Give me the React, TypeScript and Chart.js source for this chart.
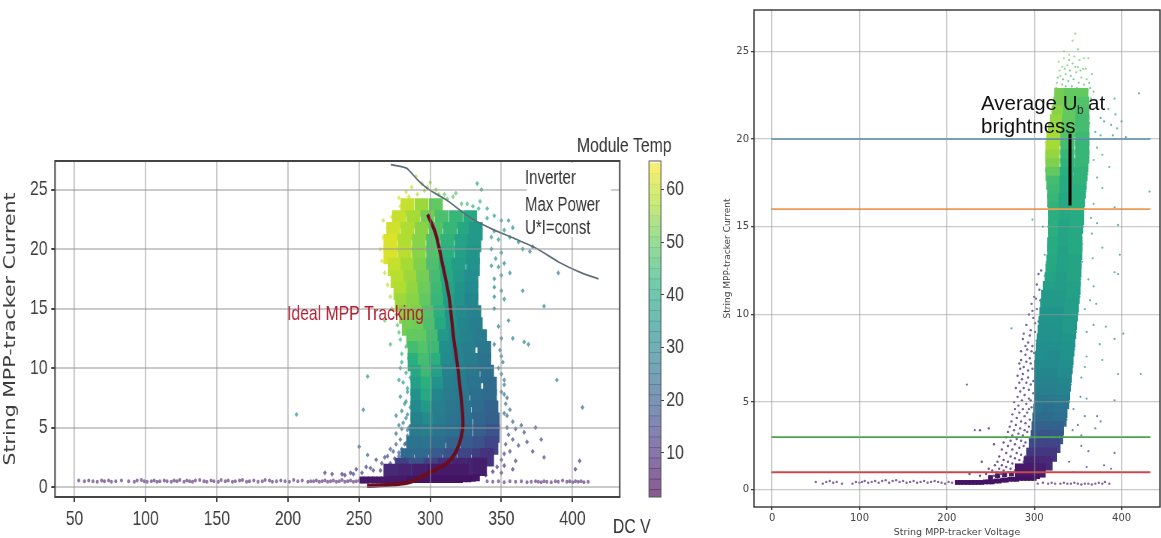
import React, { useEffect, useRef } from "react";
import { Chart, registerables } from "chart.js";
Chart.register(...registerables);

// ---------- left panel data: [current, voltages, temperatures] per row ----------
const leftCoreRows: [number, number[], number[]][] = [
  [23.5, [284, 294, 304], [60, 56, 50]],
  [22.5, [278, 288, 298, 308, 318, 328], [60, 57, 52, 47, 44, 40]],
  [21.5, [274, 284, 294, 304, 314, 324, 332], [61, 58, 54, 48, 44, 40, 36]],
  [20.5, [272, 282, 292, 302, 312, 322, 331], [62, 58, 54, 48, 43, 39, 36]],
  [19.5, [272, 282, 292, 302, 312, 322, 330], [62, 59, 54, 48, 42, 38, 35]],
  [18.5, [275, 284, 293, 302, 311, 320, 330], [60, 57, 53, 47, 41, 37, 34]],
  [17.5, [277, 286, 295, 304, 312, 321, 329], [59, 56, 52, 46, 40, 36, 33]],
  [16.5, [279, 288, 296, 305, 313, 322, 329], [58, 55, 51, 45, 39, 35, 32]],
  [15.5, [280, 288, 297, 305, 314, 322, 329], [56, 54, 50, 44, 37, 34, 31]],
  [14.5, [283, 291, 299, 307, 315, 323, 331], [54, 53, 48, 42, 35, 32, 30]],
  [13.5, [285, 293, 300, 308, 316, 324, 332], [52, 51, 47, 40, 34, 31, 29]],
  [12.5, [288, 295, 302, 310, 318, 326, 335], [50, 50, 46, 36, 32, 30, 28]],
  [11.5, [289, 296, 303, 311, 319, 327, 338], [46, 48, 45, 33, 31, 29, 27]],
  [10.5, [289, 296, 304, 312, 320, 329, 338], [42, 46, 42, 32, 30, 28, 26]],
  [9.5, [291, 298, 305, 313, 321, 330, 340], [40, 45, 38, 30, 29, 27, 25]],
  [8.5, [291, 298, 306, 314, 322, 331, 342], [38, 42, 34, 29, 28, 26, 24]],
  [7.5, [291, 298, 306, 314, 323, 333, 342], [34, 40, 31, 28, 27, 25, 24]],
  [6.5, [291, 298, 306, 315, 324, 334, 343], [32, 36, 29, 27, 26, 24, 22]],
  [5.5, [291, 299, 307, 316, 325, 335, 344], [30, 32, 28, 26, 25, 23, 21]],
  [4.5, [290, 298, 307, 316, 325, 335, 344], [28, 29, 26, 25, 23, 21, 18]],
  [3.5, [288, 297, 306, 316, 326, 335, 343], [26, 26, 24, 22, 20, 18, 15]],
  [2.5, [284, 294, 304, 314, 324, 334, 340], [24, 24, 20, 18, 15, 13, 11]],
  [1.7, [280, 290, 300, 310, 320, 330, 335], [14, 18, 14, 10, 8, 8, 7]],
  [1.2, [272, 282, 292, 302, 312, 322], [9, 8, 7, 6, 6, 6]],
];

const leftFoot: [number, number, number][] = [
  [252, 0.6, 6], [255, 0.6, 6], [258, 0.6, 6], [261, 0.6, 6], [264, 0.6, 6], [267, 0.6, 6], [270, 0.6, 6], [273, 0.65, 6],
  [276, 0.65, 6], [279, 0.65, 6], [282, 0.65, 6], [285, 0.65, 5], [288, 0.65, 5], [291, 0.65, 5], [294, 0.65, 5], [297, 0.65, 5],
  [300, 0.65, 5], [303, 0.65, 5], [306, 0.65, 5], [309, 0.65, 5], [312, 0.65, 5], [315, 0.65, 5], [318, 0.65, 5], [321, 0.65, 5],
  [324, 0.7, 5], [327, 0.7, 5], [330, 0.75, 5], [333, 0.8, 5],
];

const leftFringe: [number, number, number][] = [
  [290, 26.1, 60], [294, 25.5, 58], [300, 25.6, 56], [304, 25, 54], [287, 25.2, 60], [283, 24.8, 60], [278, 24.3, 62],
  [296, 24.9, 56], [310, 24.6, 50], [318, 24.7, 48], [312, 24.2, 50], [322, 23.8, 46], [335, 24, 44], [333, 25.5, 40],
  [336, 25, 38], [330, 23.6, 42], [340, 23.4, 40], [345, 22.8, 38], [350, 22.4, 36], [355, 22.4, 34], [352, 21.6, 36],
  [358, 21.8, 34], [345, 21.5, 36], [348, 20.8, 34], [356, 21, 34], [362, 20.6, 32], [365, 20, 32], [370, 19.8, 30],
  [372, 20.2, 30], [343, 20, 34], [346, 19.2, 33], [350, 19.7, 32], [348, 18.5, 32], [352, 18.8, 30], [345, 17.5, 32],
  [350, 17.8, 31], [350, 16.5, 30], [345, 16, 31], [352, 15.8, 30], [356, 18, 30], [365, 16.5, 30], [390, 18, 30],
  [380, 15.2, 32], [345, 15, 30], [348, 13.5, 28], [355, 14, 30], [358, 12.5, 30], [366, 12.2, 30], [369, 12, 28],
  [345, 12, 28], [350, 11, 28], [348, 10, 26], [352, 9, 26], [350, 8, 25], [354, 7.5, 24], [356, 6.5, 24], [352, 6.2, 22],
  [358, 5.5, 22], [360, 4.9, 18], [364, 5.2, 18], [366, 4.6, 18], [358, 4, 16], [362, 3.5, 16], [368, 3.8, 15],
  [374, 5, 16], [378, 4, 16], [380, 2.5, 16], [372, 3, 14], [356, 3, 14], [360, 2.2, 12], [352, 1.8, 10], [358, 1.5, 10],
  [350, 1.2, 8], [405, 2.2, 12], [402, 1.5, 10], [407, 6.7, 24], [389, 9, 30], [267, 22.4, 60], [256, 9.3, 36],
  [206, 6.1, 36], [253, 6.5, 30], [250, 3.4, 20], [256, 2.7, 20], [268, 14, 50], [272, 12, 46], [278, 13, 48],
  [280, 10.5, 40], [278, 9, 38], [284, 8, 36], [282, 7, 34], [276, 6, 30], [283, 5.8, 30], [278, 5.2, 26], [284, 4.8, 26],
  [276, 4.5, 24], [272, 3.2, 18], [268, 2.5, 16], [262, 2.3, 14], [258, 1.6, 14], [265, 1.4, 12], [272, 2, 14],
  [278, 2.6, 16], [252, 1.2, 12], [246, 1.1, 12], [240, 1, 10], [231, 1.1, 12], [226, 1.2, 12], [282, 3.6, 18],
  [276, 14.5, 50], [281, 15.3, 52], [277, 13.6, 48], [282, 13.2, 50], [279, 12.4, 46], [283, 11.8, 46], [280, 11.2, 44],
  [285, 10.8, 42], [279, 10, 40], [283, 9.6, 40], [286, 9.2, 38], [281, 8.8, 38], [284, 8.3, 36], [287, 7.8, 34], [279, 7.6, 34],
  [283, 7.2, 32], [286, 6.7, 30], [280, 6.4, 30], [284, 6.1, 30], [287, 5.6, 28], [281, 5.4, 28], [285, 5, 26], [280, 4.9, 26],
  [284, 4.3, 24], [279, 4, 22], [283, 3.7, 22], [276, 3.6, 20], [280, 3.2, 20], [274, 3, 18], [278, 2.9, 18], [270, 2.6, 16],
  [275, 2.4, 16], [266, 2, 14], [271, 1.8, 14], [276, 1.7, 14], [260, 1.4, 12], [255, 1.7, 12], [248, 1.5, 12], [244, 1.2, 10],
  [238, 1.1, 10], [350, 12.5, 28], [349, 11.5, 28], [351, 10.5, 26], [350, 9.5, 26], [352, 8.6, 25], [352, 7.8, 24], [353, 7, 24],
  [354, 6, 22], [354, 5, 20], [355, 4.4, 18], [353, 3.6, 16], [352, 2.8, 14], [350, 2.3, 12], [347, 1.7, 10], [344, 1.3, 8],
  [339, 1, 8], [345, 16.8, 31], [343, 18.6, 33], [343, 21, 36], [340, 22.6, 38], [334, 23.4, 42], [326, 23.8, 46], [316, 24.4, 50],
  [306, 24.6, 52], [298, 25.2, 56], [291, 24.6, 58], [285, 24.4, 60], [279, 23.6, 61], [273, 22.7, 62], [270, 21.8, 62],
  [267, 21, 62], [265, 20, 62], [266, 19, 62], [268, 18, 60], [270, 17, 60], [272, 16, 58], [273, 15, 56],
];

const leftBaselineV = [
  53, 57, 60, 63, 66, 69, 71, 74, 76, 79, 83, 88, 92, 94, 97, 99, 101, 104, 106, 108, 110, 113, 115, 118, 120, 122, 124,
  127, 129, 131, 133, 135, 138, 141, 143, 146, 148, 151, 153, 156, 158, 161, 163, 166, 168, 171, 173, 176, 179, 182,
  184, 187, 189, 192, 195, 198, 201, 204, 207, 210, 214, 216, 218, 220, 222, 224, 226, 228, 230, 232, 234, 236, 238,
  240, 242, 244, 246, 248, 250, 252, 254, 256, 340, 344, 348, 352, 356, 360, 364, 368, 371, 374, 376, 378, 380, 382,
  385, 388, 390, 393, 396, 398, 400, 402, 404, 406, 408, 411,
];
const leftBaselineI = [
  0.55, 0.5, 0.55, 0.5, 0.45, 0.55, 0.5, 0.55, 0.45, 0.5, 0.55, 0.5, 0.45, 0.55, 0.6, 0.5, 0.45, 0.5, 0.55, 0.45, 0.5,
  0.55, 0.5, 0.45, 0.55, 0.5, 0.6, 0.45, 0.55, 0.5, 0.45, 0.55, 0.6, 0.5, 0.45, 0.55, 0.5, 0.45, 0.6, 0.5, 0.55, 0.45,
  0.5, 0.55, 0.6, 0.45, 0.5, 0.55, 0.45, 0.5, 0.6, 0.55, 0.45, 0.5, 0.55, 0.5, 0.45, 0.6, 0.5, 0.55, 0.45, 0.5, 0.5,
  0.55, 0.45, 0.5, 0.55, 0.45, 0.5, 0.55, 0.45, 0.5, 0.6, 0.45, 0.5, 0.55, 0.45, 0.5, 0.55, 0.45, 0.5, 0.45, 0.5, 0.45,
  0.5, 0.4, 0.5, 0.45, 0.5, 0.4, 0.45, 0.5, 0.45, 0.4, 0.5, 0.45, 0.4, 0.5, 0.45, 0.55, 0.45, 0.5, 0.4, 0.5, 0.45, 0.5,
  0.4, 0.45,
];

const inverterV = [272.2, 283.3, 291.2, 299, 311.7, 327.4, 343.2, 359, 374.8, 390.5, 406.3, 418.3];
const inverterI = [27.1, 26.8, 25.8, 25, 24.1, 22.7, 21.7, 20.9, 20.05, 18.9, 18, 17.5];
const idealV = [298.1, 303.8, 308.5, 313.2, 316.4, 319.6, 322.7, 322.7, 318.6, 311.7, 300.6, 286.4, 273.8, 255.5];
const idealI = [22.9, 21.3, 18.8, 16, 12.6, 9.8, 6.2, 4.8, 3.1, 2, 1.3, 0.45, 0.22, 0.1];

const leftXTicks = [50, 100, 150, 200, 250, 300, 350, 400];
const leftYTicks = [0, 5, 10, 15, 20, 25];
const colorbarTicks = [10, 20, 30, 40, 50, 60];
const colorbarLevels = [
  2, 4, 6, 8, 10, 12, 14, 16, 18, 20, 22, 24, 26, 28, 30, 32, 34, 36, 38, 40, 42, 44, 46, 48, 50, 52, 54, 56, 58, 60, 62, 64,
];

// ---------- right panel data ----------
const rightCoreRows: [number, number[], number[]][] = [
  [22.5, [331, 342, 354], [52, 50, 50]], [22, [330, 342, 355], [52, 50, 48]], [21.5, [328, 341, 355], [54, 50, 47]],
  [21, [326, 340, 355], [55, 50, 46]], [20.5, [324, 339, 355], [56, 49, 46]], [20, [322, 338, 355], [57, 48, 45]],
  [19.5, [321, 338, 355], [57, 46, 44]], [19, [321, 338, 355], [55, 44, 44]], [18.5, [321, 338, 354], [53, 43, 44]],
  [18, [321, 337, 353], [50, 42, 43]], [17.5, [322, 337, 352], [46, 41, 43]], [17, [323, 337, 351], [45, 41, 42]],
  [16.5, [323, 336, 350], [44, 40, 42]], [16, [324, 336, 349], [43, 40, 42]], [15.5, [324, 336, 349], [42, 40, 41]],
  [15, [324, 336, 348], [42, 39, 41]], [14.5, [324, 335, 347], [42, 39, 40]], [14, [323, 335, 347], [41, 39, 40]],
  [13.5, [323, 335, 347], [41, 38, 40]], [13, [322, 334, 346], [40, 38, 39]], [12.5, [321, 333, 346], [40, 38, 39]],
  [12, [320, 333, 345], [39, 37, 39]], [11.5, [318, 331, 345], [38, 37, 38]], [11, [316, 330, 344], [36, 36, 38]],
  [10.5, [315, 329, 343], [36, 36, 37]], [10, [314, 328, 342], [35, 35, 37]], [9.5, [313, 327, 341], [35, 35, 36]],
  [9, [312, 326, 340], [34, 34, 36]], [8.5, [311, 325, 339], [34, 34, 35]], [8, [310, 324, 338], [33, 33, 34]],
  [7.5, [309, 323, 337], [33, 32, 34]], [7, [308, 322, 336], [32, 32, 33]], [6.5, [308, 321, 335], [31, 31, 32]],
  [6, [308, 321, 334], [30, 30, 31]], [5.5, [308, 320, 333], [29, 29, 30]], [5, [308, 319, 332], [27, 27, 28]],
  [4.5, [307, 318, 330], [26, 25, 26]], [4, [306, 317, 329], [24, 24, 25]], [3.5, [305, 315, 326], [22, 22, 22]],
  [3, [304, 314, 325], [19, 18, 19]], [2.5, [302, 312, 322], [16, 15, 15]], [2, [299, 309, 318], [12, 12, 12]],
  [1.5, [296, 305, 313], [8, 8, 9]], [1.1, [286, 296, 305], [6, 6, 7]],
];

const rightFoot: [number, number, number][] = [
  [212, 0.42, 5], [216, 0.42, 5], [220, 0.42, 5], [224, 0.42, 5], [228, 0.42, 5], [232, 0.42, 5], [236, 0.42, 5], [240, 0.42, 5],
  [244, 0.45, 5], [248, 0.45, 5], [252, 0.45, 5], [256, 0.5, 5], [260, 0.5, 5], [264, 0.55, 5], [268, 0.55, 5], [272, 0.6, 5],
  [276, 0.6, 5], [280, 0.6, 5], [284, 0.65, 5], [288, 0.65, 5], [292, 0.65, 5], [296, 0.65, 5], [300, 0.65, 5], [304, 0.75, 5],
  [250, 0.7, 5], [258, 0.8, 5], [266, 0.85, 6], [274, 0.9, 6], [282, 0.9, 6],
];

const rightSparse: [number, number, number][] = [
  [305, 12.3, 14], [308, 12.5, 14], [303, 11.7, 13], [306, 11.4, 14], [300, 11, 12], [297, 10.6, 12], [303, 10.3, 13],
  [307, 10.8, 14], [294, 10, 12], [299, 9.8, 12], [305, 9.6, 14], [291, 9.4, 11], [296, 9.1, 12], [301, 9, 12],
  [287, 8.6, 11], [293, 8.4, 11], [298, 8.2, 12], [303, 8.5, 13], [285, 7.9, 10], [290, 7.7, 11], [295, 7.5, 11],
  [300, 7.8, 12], [283, 7.2, 10], [288, 7, 10], [293, 6.8, 11], [298, 6.9, 12], [281, 6.5, 10], [286, 6.3, 10],
  [291, 6.1, 11], [296, 6, 11], [301, 6.4, 13], [279, 5.8, 10], [284, 5.6, 10], [289, 5.4, 10], [294, 5.2, 11],
  [299, 5.5, 12], [277, 5, 9], [282, 4.8, 10], [287, 4.6, 10], [292, 4.4, 10], [297, 4.7, 11], [275, 4.3, 9],
  [280, 4.1, 9], [285, 3.9, 10], [290, 3.8, 10], [295, 4, 11], [272, 3.6, 9], [277, 3.4, 9], [282, 3.2, 9], [287, 3.1, 10],
  [292, 3.3, 10], [268, 3, 8], [273, 2.8, 8], [278, 2.6, 9], [283, 2.4, 9], [288, 2.5, 9], [293, 2.2, 10], [263, 2.3, 8],
  [268, 2.1, 8], [273, 1.9, 8], [278, 1.8, 8], [283, 1.7, 8], [288, 1.6, 8], [258, 1.6, 7], [263, 1.4, 7], [268, 1.3, 7],
  [273, 1.2, 7], [278, 1.1, 7], [252, 1.1, 7], [257, 1, 7], [262, 0.9, 7], [268, 0.85, 6], [245, 0.9, 6], [238, 0.8, 6],
  [226, 0.9, 6], [238, 3.4, 8], [248, 3.5, 8], [254, 2.6, 8], [240, 1.6, 7], [288, 8.9, 11], [292, 8, 11], [284, 6.9, 10],
  [302, 10.9, 13], [298, 10.2, 12], [301, 9.5, 12], [295, 8.8, 11], [290, 8.2, 11], [297, 7.9, 12], [285, 7.4, 10], [291, 7.3, 11],
  [296, 7.2, 11], [287, 6.6, 10], [293, 6.4, 11], [299, 6.2, 12], [283, 6.1, 10], [288, 5.8, 10], [294, 5.7, 11], [281, 5.3, 10],
  [286, 5.1, 10], [291, 4.9, 10], [296, 5.1, 11], [278, 4.6, 9], [283, 4.4, 10], [289, 4.2, 10], [294, 4.6, 11], [274, 3.9, 9],
  [279, 3.7, 9], [284, 3.5, 10], [289, 3.4, 10], [294, 3.6, 10], [270, 3.3, 8], [275, 3.1, 8], [280, 2.9, 9], [285, 2.8, 9],
  [290, 2.7, 9], [295, 2.9, 10], [265, 2.7, 8], [270, 2.5, 8], [275, 2.3, 8], [280, 2.1, 8], [285, 2, 9], [290, 1.9, 9], [295, 2, 9],
  [260, 1.9, 7], [265, 1.7, 7], [270, 1.6, 7], [275, 1.5, 8], [280, 1.4, 8], [285, 1.3, 8], [290, 1.3, 8], [255, 1.4, 7], [260, 1.2, 7],
  [265, 1.1, 7], [270, 1, 7], [275, 0.95, 7], [280, 1, 7], [248, 1.2, 7], [254, 0.8, 6], [260, 0.75, 6],
];

const rightScatter: [number, number, number][] = [
  [347, 26, 52], [344, 25.6, 54], [350, 25.1, 50], [340, 24.8, 55], [334, 25, 56], [357, 24.6, 54], [328, 24.4, 56],
  [332, 24.1, 54], [338, 24.2, 52], [344, 24.3, 50], [350, 24.1, 52], [356, 24, 50], [362, 24.6, 52], [330, 23.6, 52],
  [336, 23.7, 50], [342, 23.6, 48], [348, 23.8, 50], [354, 23.5, 50], [360, 23.4, 48], [366, 23.7, 48], [326, 23.2, 50],
  [332, 23.1, 46], [364, 22.9, 46], [368, 22.7, 44], [371, 22.2, 40], [392, 22.3, 38], [393, 21.4, 36], [385, 21.7, 38],
  [376, 21.2, 38], [380, 21, 36], [388, 20.8, 36], [395, 20.6, 36], [400, 21, 34], [370, 20.4, 38], [376, 20.2, 38],
  [390, 20.2, 34], [405, 20.1, 34], [420, 22.6, 36], [372, 19.5, 38], [378, 19.1, 38], [368, 18.8, 40], [386, 18.4, 36],
  [372, 17.8, 38], [378, 17.2, 38], [392, 16.1, 34], [432, 17, 34], [368, 16.3, 40], [365, 15.5, 40], [372, 15.2, 38],
  [396, 15.1, 34], [298, 15.4, 38], [310, 15, 36], [366, 14.6, 38], [378, 13.8, 38], [398, 13.4, 34], [367, 13.2, 38],
  [392, 12.4, 34], [396, 12.3, 34], [312, 13.4, 30], [362, 12, 36], [368, 11.6, 36], [364, 10.8, 36], [358, 10.3, 36],
  [371, 10.6, 36], [274, 9.2, 30], [368, 9.4, 34], [382, 9.3, 34], [360, 9, 34], [402, 8.9, 30], [392, 8.6, 30], [375, 8.3, 34],
  [360, 7.6, 32], [358, 7, 32], [378, 7.4, 32], [422, 6.6, 30], [354, 6.4, 30], [396, 6.6, 30], [353, 5.3, 26], [360, 5.2, 26],
  [392, 5.1, 24], [345, 4.6, 22], [358, 4.2, 22], [372, 4.2, 20], [376, 3.9, 20], [350, 3.7, 20], [344, 3.4, 18], [354, 3.1, 18],
  [370, 3.5, 18], [232, 3.4, 8], [354, 2.5, 16], [362, 2.2, 14], [392, 2.1, 14], [340, 1.6, 10], [360, 1.3, 10], [380, 1.4, 10],
  [388, 1.2, 10], [345, 1, 8], [223, 6, 12], [334, 24.6, 54], [340, 24.5, 50], [346, 24.7, 52], [352, 24.5, 50], [329, 23.9, 52],
  [335, 24, 48], [341, 23.9, 46], [347, 24.1, 48], [353, 23.9, 46], [359, 24, 50], [327, 23.5, 48], [333, 23.4, 44], [339, 23.3, 46],
  [345, 23.4, 44], [351, 23.2, 46], [357, 23.1, 46], [363, 23.2, 46], [325, 22.9, 50], [336, 23, 46], [343, 23, 44], [349, 22.9, 46],
  [355, 22.8, 44], [361, 22.8, 44], [365, 22.3, 42], [324, 22.4, 52], [322, 21.9, 52], [320, 21.2, 54], [317, 20.6, 54],
  [314, 19.8, 56], [313, 19, 54], [313, 18.2, 52], [315, 17.2, 46], [316, 16.2, 44], [316, 15, 42], [316, 14, 42], [314, 13, 40],
  [312, 12.2, 40], [362, 21.6, 42], [363, 20.9, 42], [363, 20, 42], [362, 19, 42], [361, 18, 42], [359, 17, 42], [358, 16, 42],
  [356, 15, 40], [355, 14, 40], [355, 13, 38], [353, 12, 38], [352, 11, 38], [350, 10, 36], [348, 9, 36], [346, 8, 34], [344, 7, 32],
  [342, 6, 30], [340, 5, 28], [337, 4, 24], [333, 3, 18],
];

const rightBaselineV = [
  50, 58, 62, 66, 70, 74, 80, 92, 96, 100, 103, 106, 110, 114, 118, 122, 126, 130, 134, 138, 142, 146, 150, 154, 158,
  162, 166, 170, 174, 178, 182, 186, 190, 194, 198, 202, 206, 304, 310, 316, 320, 324, 330, 334, 338, 342, 346, 350, 354, 358,
  362, 366, 370, 374, 378, 381, 386,
];
const rightBaselineI = [
  0.45, 0.35, 0.45, 0.5, 0.4, 0.45, 0.35, 0.35, 0.45, 0.4, 0.45, 0.5, 0.4, 0.45, 0.5, 0.4, 0.5, 0.55, 0.4, 0.5, 0.55, 0.45,
  0.5, 0.4, 0.45, 0.5, 0.4, 0.45, 0.5, 0.4, 0.45, 0.5, 0.45, 0.4, 0.35, 0.45, 0.4, 0.35, 0.4, 0.35, 0.4, 0.35, 0.35, 0.4, 0.35,
  0.35, 0.4, 0.35, 0.3, 0.35, 0.35, 0.3, 0.35, 0.4, 0.35, 0.45, 0.35,
];

const rightHLineV = [-1, 433];
const hLineBlue = [20, 20];
const hLineOrange = [16, 16];
const hLineGreen = [3, 3];
const hLineRed = [1, 1];
const averageV = [341, 341];
const averageI = [20.3, 16.2];
const rightXTicks = [0, 100, 200, 300, 400];
const rightYTicks = [0, 5, 10, 15, 20, 25];

// ---------- helpers ----------
const viridisStops = [
  [68, 1, 84], [71, 44, 122], [59, 81, 139], [44, 113, 142], [33, 144, 141], [39, 173, 129], [92, 200, 99], [170, 220, 50], [253, 231, 37],
];
function viridis(t: number, alpha: number) {
  const u = Math.min(1, Math.max(0, (t - 1.6) / 63.8)) * (viridisStops.length - 1);
  const i = Math.min(viridisStops.length - 2, Math.floor(u));
  const f = u - i;
  const c = viridisStops[i].map((a, k) => Math.round(a + (viridisStops[i + 1][k] - a) * f));
  return `rgba(${c[0]},${c[1]},${c[2]},${alpha})`;
}
const flatten = (rows: [number, number[], number[]][]) =>
  rows.flatMap(([i, vs, ts]) => vs.map((v, k) => [v, i, ts[k]] as [number, number, number]));
const zip = (xs: number[], ys: number[]) => xs.map((x, k) => ({ x, y: ys[k] }));
const cloud = (pts: [number, number, number][], radius: number, alpha: number, order: number, style = "circle") => ({
  data: pts.map(([x, y]) => ({ x, y })),
  pointBackgroundColor: pts.map((p) => viridis(p[2], alpha)),
  pointBorderColor: "rgba(0,0,0,0)",
  pointBorderWidth: 0,
  pointRadius: radius,
  pointStyle: style,
  showLine: false,
  order,
});
const line = (data: any, color: string, width: number, order: number, tension = 0) => ({
  data,
  borderColor: color,
  borderWidth: width,
  pointRadius: 0,
  showLine: true,
  tension,
  order,
});

const SQ = 0.75; // the left panel is a horizontally squeezed picture
const px = (v: number) => v / SQ;
const SANS = '"Liberation Sans", sans-serif';

type Txt = { s: string; x: number; y: number; font: string; color: string };
const overlay = (id: string, box: number[] | null, texts: Txt[], frame: string, fw: number) => ({
  id,
  afterDraw(chart: any) {
    const { ctx, chartArea: a } = chart;
    ctx.save();
    if (box) {
      ctx.fillStyle = "#fff";
      ctx.fillRect(box[0], box[1], box[2], box[3]);
    }
    ctx.strokeStyle = frame;
    ctx.lineWidth = fw;
    ctx.strokeRect(a.left, a.top, a.right - a.left, a.bottom - a.top);
    ctx.textBaseline = "alphabetic";
    ctx.textAlign = "left";
    for (const t of texts) {
      ctx.font = t.font;
      ctx.fillStyle = t.color;
      ctx.fillText(t.s, t.x, t.y);
    }
    ctx.restore();
  },
});

const fixedTicks = (list: number[]) => (axis: any) => {
  axis.ticks = list.map((value) => ({ value }));
};

export default function App() {
  const leftRef = useRef<HTMLCanvasElement>(null);
  const barRef = useRef<HTMLCanvasElement>(null);
  const rightRef = useRef<HTMLCanvasElement>(null);

  useEffect(() => {
    const leftTick = { family: SANS, size: 21 };
    const gridC = "rgba(150,150,150,0.5)";
    const left = new Chart(leftRef.current!, {
      type: "scatter",
      data: {
        datasets: [
          line(zip(idealV, idealI), "#6b0d1f", 4.2, 0, 0.3),
          line(zip(inverterV, inverterI), "#5d6d78", 1.7, 1, 0.2),
          cloud(leftFoot, 5, 1, 2, "rect"),
          cloud(flatten(leftCoreRows), 13, 1, 3, "rect"),
          cloud(leftFringe, 2.6, 0.7, 4, "rectRot"),
          cloud(leftBaselineV.map((v, k) => [v, leftBaselineI[k], 6] as [number, number, number]), 2, 0.6, 5),
        ] as any,
      },
      options: {
        responsive: false,
        animation: false,
        layout: { padding: { top: 161, right: px(80), left: 0, bottom: 0 } },
        plugins: { legend: { display: false }, tooltip: { enabled: false } },
        scales: {
          x: {
            type: "linear",
            min: 36.3,
            max: 433.2,
            afterBuildTicks: fixedTicks(leftXTicks),
            afterFit: (s: any) => { s.height = 41; },
            grid: { color: gridC, lineWidth: 2, z: 1, tickLength: 5, tickColor: "#444" },
            border: { display: false },
            ticks: { font: leftTick, color: "#3a3a3a", padding: 5, maxRotation: 0 },
          },
          y: {
            type: "linear",
            min: -0.83,
            max: 27.4,
            afterBuildTicks: fixedTicks(leftYTicks),
            afterFit: (s: any) => { s.width = px(55); },
            grid: { color: gridC, lineWidth: 2, z: 1, tickLength: 5, tickColor: "#444" },
            border: { display: false },
            ticks: { font: leftTick, color: "#3a3a3a", padding: 5 },
            title: {
              display: true,
              text: "String MPP-tracker Current",
              color: "#3c3c3c",
              font: { family: "DejaVu Sans", size: 20.5 },
              padding: { top: 2, bottom: 0 },
            },
          },
        },
      } as any,
      plugins: [
        overlay(
          "leftText",
          [px(527), 163, px(84), 74],
          [
            { s: "Inverter", x: px(525), y: 184, font: `20px ${SANS}`, color: "#333" },
            { s: "Max Power", x: px(525), y: 211, font: `20px ${SANS}`, color: "#333" },
            { s: "U*I=const", x: px(525), y: 234, font: `20px ${SANS}`, color: "#333" },
            { s: "Ideal MPP Tracking", x: px(287), y: 320, font: `21px ${SANS}`, color: "#b21d30" },
            { s: "Module Temp", x: px(577), y: 152, font: `21px ${SANS}`, color: "#333" },
            { s: "DC V", x: px(613), y: 533, font: `21px ${SANS}`, color: "#333" },
          ],
          "#444",
          2
        ),
      ] as any,
    });

    const colorbar = new Chart(barRef.current!, {
      type: "bar",
      data: {
        labels: ["Module Temp"],
        datasets: colorbarLevels.map((t) => ({
          data: [[t - 1, t + 1]],
          backgroundColor: viridis(t, 0.65),
          borderWidth: 0,
          grouped: false,
          barPercentage: 1,
          categoryPercentage: 1,
        })),
      } as any,
      options: {
        responsive: false,
        animation: false,
        layout: { padding: { top: 161, left: px(9), right: 0, bottom: 0 } },
        plugins: { legend: { display: false }, tooltip: { enabled: false } },
        scales: {
          x: { display: true, grid: { display: false }, ticks: { display: false }, border: { display: false }, afterFit: (s: any) => { s.height = 41; } },
          y: {
            position: "right",
            min: 1.6,
            max: 65.4,
            afterBuildTicks: fixedTicks(colorbarTicks),
            afterFit: (s: any) => { s.width = px(39); },
            grid: { drawOnChartArea: false, tickLength: 4, tickColor: "#444" },
            border: { display: false },
            ticks: { font: leftTick, color: "#3a3a3a", padding: 3 },
          },
        },
      } as any,
      plugins: [overlay("barFrame", null, [], "#555", 1)] as any,
    });

    const right = new Chart(rightRef.current!, {
      type: "scatter",
      data: {
        datasets: [
          line(zip(averageV, averageI), "#000", 3, 0),
          line(zip(rightHLineV, hLineBlue), "#3f86b8", 1.6, 1),
          line(zip(rightHLineV, hLineOrange), "#ef9a52", 1.6, 1),
          line(zip(rightHLineV, hLineGreen), "#4aa64c", 1.8, 1),
          line(zip(rightHLineV, hLineRed), "#c8484c", 1.8, 1),
          cloud(rightFoot, 3.4, 1, 2, "rect"),
          cloud(flatten(rightCoreRows), 10, 1, 3, "rect"),
          cloud(rightScatter, 1.1, 0.7, 4),
          cloud(rightSparse, 1.2, 0.75, 4),
          cloud(rightBaselineV.map((v, k) => [v, rightBaselineI[k], 5] as [number, number, number]), 1.2, 0.65, 5),
        ] as any,
      },
      options: {
        responsive: false,
        animation: false,
        layout: { padding: { top: 8, right: 21, left: 0, bottom: 0 } },
        plugins: { legend: { display: false }, tooltip: { enabled: false } },
        scales: {
          x: {
            type: "linear",
            min: -20.7,
            max: 444,
            afterBuildTicks: fixedTicks(rightXTicks),
            afterFit: (s: any) => { s.height = 31; },
            grid: { color: gridC, lineWidth: 1.3, z: 1, tickLength: 3, tickColor: "#444" },
            border: { display: false },
            ticks: { font: { family: "DejaVu Sans", size: 10 }, color: "#444", padding: 2, maxRotation: 0 },
            title: {
              display: true,
              text: "String MPP-tracker Voltage",
              color: "#444",
              font: { family: "DejaVu Sans", size: 9.5 },
              padding: { top: 0, bottom: 0 },
            },
          },
          y: {
            type: "linear",
            min: -0.98,
            max: 27.35,
            afterBuildTicks: fixedTicks(rightYTicks),
            afterFit: (s: any) => { s.width = 34; },
            grid: { color: gridC, lineWidth: 1.3, z: 1, tickLength: 3, tickColor: "#444" },
            border: { display: false },
            ticks: { font: { family: "DejaVu Sans", size: 10 }, color: "#444", padding: 2 },
            title: {
              display: true,
              text: "String MPP-tracker Current",
              color: "#444",
              font: { family: "DejaVu Sans", size: 9 },
              padding: { top: 2, bottom: 0 },
            },
          },
        },
      } as any,
      plugins: [
        overlay(
          "rightText",
          null,
          [
            { s: "Average U", x: 261, y: 110, font: `20.5px ${SANS}`, color: "#111" },
            { s: "b", x: 357, y: 114, font: `12px ${SANS}`, color: "#333" },
            { s: "at", x: 368, y: 110, font: `20.5px ${SANS}`, color: "#111" },
            { s: "brightness", x: 261, y: 133, font: `20.5px ${SANS}`, color: "#111" },
          ],
          "#333",
          1.4
        ),
      ] as any,
    });

    return () => {
      left.destroy();
      colorbar.destroy();
      right.destroy();
    };
  }, []);

  const squeezed: React.CSSProperties = {
    position: "absolute",
    top: 0,
    transform: `scaleX(${SQ})`,
    transformOrigin: "0 0",
  };
  return (
    <div style={{ position: "absolute", left: 0, top: 0, width: 1161, height: 538, background: "#fff", overflow: "hidden" }}>
      <canvas ref={leftRef} width={700 / SQ} height={538} style={{ ...squeezed, left: 0, filter: "blur(0.7px)" }} />
      <canvas ref={barRef} width={60 / SQ} height={538} style={{ ...squeezed, left: 640, filter: "blur(0.5px)" }} />
      <canvas ref={rightRef} width={461} height={538} style={{ position: "absolute", left: 720, top: 0, filter: "blur(0.4px)" }} />
    </div>
  );
}
